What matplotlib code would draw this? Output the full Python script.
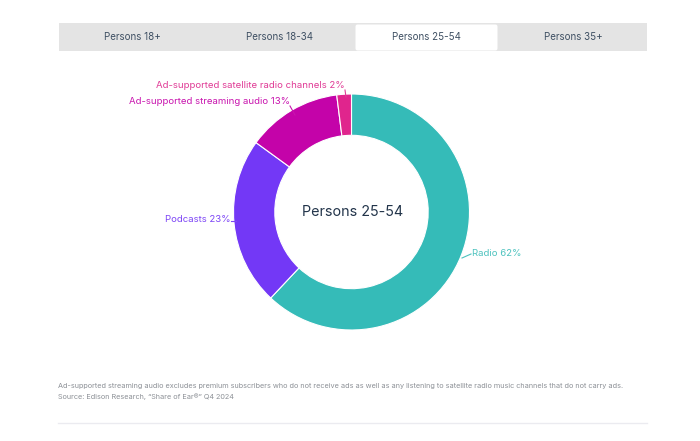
import matplotlib.pyplot as plt
from matplotlib.patches import Rectangle, FancyBboxPatch

plt.rcParams['font.family'] = ['Inter', 'DejaVu Sans']

# data
tabs = ['Persons 18+', 'Persons 18-34', 'Persons 25-54', 'Persons 35+']
active_tab = 2
categories = ['Radio', 'Podcasts', 'Ad-supported streaming audio',
              'Ad-supported satellite radio channels']
shares = [62, 23, 13, 2]
colors = ['#35bbb8', '#7338f6', '#c403a9', '#e0258d']
label_colors = ['#4cc2be', '#7d45f6', '#c814ae', '#e03a95']
center_label = 'Persons 25-54'
footnote = ('Ad-supported streaming audio excludes premium subscribers who do not receive ads '
            'as well as any listening to satellite radio music channels that do not carry ads.')
source = 'Source: Edison Research, \u201cShare of Ear\u00ae\u201d Q4 2024'

W, H = 700, 441
fig = plt.figure(figsize=(7, 4.41), dpi=100)
ax = fig.add_axes([0, 0, 1, 1])


def Y(y):
    # pixel rows from the top -> data y from the bottom
    return H - y


# tab bar
ax.add_patch(Rectangle((59, Y(50.5)), 588, 27.5, facecolor='#e4e4e4', edgecolor='none'))
tab_w = 588 / len(tabs)
for i, t in enumerate(tabs):
    x0 = 59 + i * tab_w
    if i == active_tab:
        ax.add_patch(FancyBboxPatch((x0 + 2.5, Y(50.5)), tab_w - 5, 26,
                                    boxstyle='round,pad=0,rounding_size=2',
                                    facecolor='white', edgecolor='none'))
    ax.text(x0 + tab_w / 2, Y(36.5), t, ha='center', va='center',
            fontsize=7, color='#3f5063')

# donut
cx, cy, r_out = 351.5, Y(212), 118
wedges, _ = ax.pie(shares, colors=colors, startangle=90, counterclock=False,
                   center=(cx, cy), radius=r_out,
                   wedgeprops=dict(width=r_out * 0.35, edgecolor='white', linewidth=0.8))
ax.text(cx + 1, cy, center_label, ha='center', va='center', fontsize=10.3, color='#22344a')

# labels with leader lines (text anchor, line from ring, line end)
label_pos = [
    ((472, 254), (462, 258), (471, 254), 'left'),
    ((231, 220), (236, 221), (231, 221), 'right'),
    ((290, 102), (295, 115), (290, 106), 'right'),
    ((345, 85), (346, 97), (345, 90), 'right'),
]
for cat, val, col, (tp, p0, p1, ha) in zip(categories, shares, label_colors, label_pos):
    ax.plot([p0[0], p1[0]], [Y(p0[1]), Y(p1[1])], color=col, lw=0.8)
    ax.text(tp[0], Y(tp[1]), f'{cat} {val}%', ha=ha, va='center',
            fontsize=6.9, color=col)

# footnote
ax.text(58, Y(386), footnote, ha='left', va='center', fontsize=5.25, color='#8d9197')
ax.text(58, Y(396.5), source, ha='left', va='center', fontsize=5.25, color='#8d9197')
ax.plot([58, 647], [Y(423), Y(423)], color='#ebebf0', lw=1)

ax.set_xlim(0, W)
ax.set_ylim(0, H)
ax.set_aspect('auto')
ax.axis('off')

fig.savefig('out.png', dpi=100)
